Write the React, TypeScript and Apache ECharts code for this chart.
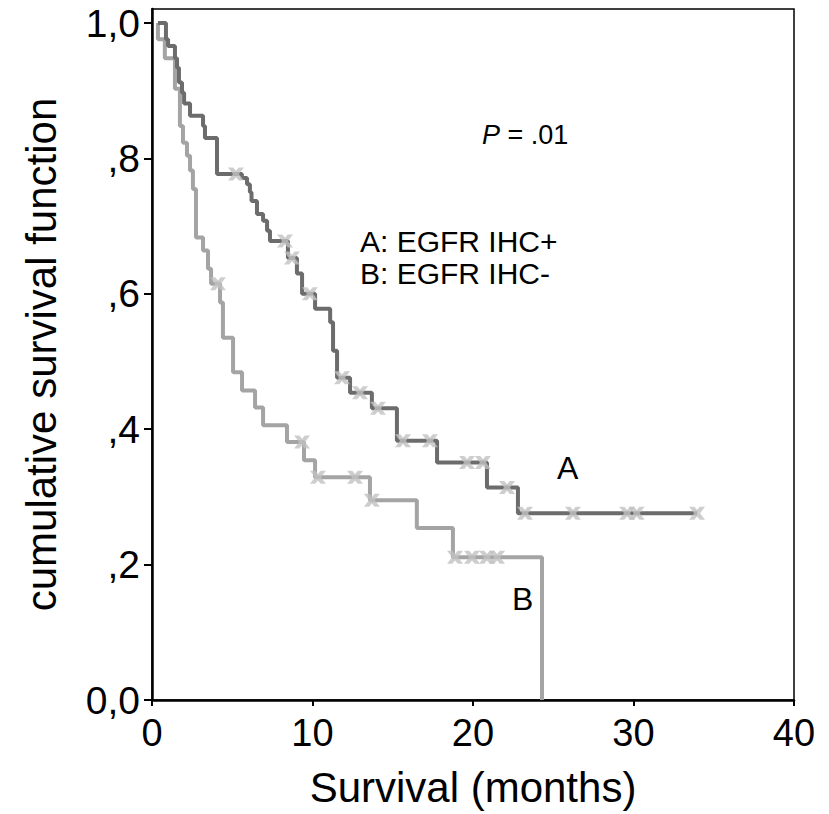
import React, { useEffect, useRef } from "react";
import * as echarts from "echarts";

// Curve A: EGFR IHC+ (drop times in months, survival after drop)
const aStart = 0.37;
const aEnd = 33.96;
const aDropT = [0.87, 1.0, 1.43, 1.56, 1.68, 1.87, 2.0, 2.37, 3.18, 3.3, 4.05, 5.6, 5.92, 6.1, 6.2, 6.54, 6.92, 7.17, 7.35, 8.47, 9.03, 9.35, 10.16, 11.1, 11.28, 11.53, 12.34, 13.7, 15.26, 17.76, 20.87, 22.8];
const aDropS = [0.976, 0.966, 0.948, 0.934, 0.912, 0.897, 0.881, 0.863, 0.848, 0.83, 0.777, 0.771, 0.762, 0.75, 0.737, 0.718, 0.708, 0.693, 0.678, 0.653, 0.63, 0.6, 0.578, 0.558, 0.516, 0.476, 0.454, 0.431, 0.383, 0.351, 0.314, 0.276];
const aCensorT = [5.23, 8.29, 8.72, 9.84, 11.84, 12.96, 14.08, 15.64, 17.32, 19.63, 20.62, 22.12, 23.24, 26.23, 29.6, 30.2, 33.96];

// Curve B: EGFR IHC-
const bStart = 0.37;
const bDropT = [0.37, 0.8, 1.43, 1.74, 1.93, 2.18, 2.37, 2.55, 2.74, 3.18, 3.49, 3.68, 4.24, 4.42, 5.05, 5.61, 6.42, 6.92, 8.41, 9.47, 10.16, 13.58, 16.5, 18.75, 24.3];
const bDropS = [0.976, 0.948, 0.903, 0.848, 0.823, 0.804, 0.782, 0.755, 0.683, 0.664, 0.637, 0.615, 0.587, 0.535, 0.484, 0.457, 0.432, 0.406, 0.381, 0.354, 0.329, 0.295, 0.254, 0.211, 0];
const bCensorT = [4.11, 9.35, 10.34, 12.65, 13.7, 18.88, 19.94, 20.87, 21.5];

const xTicks = [0, 10, 20, 30, 40];
const yTicks = [0, 0.2, 0.4, 0.6, 0.8, 1.0];
const yTickLabels = ["0,0", ",2", ",4", ",6", ",8", "1,0"];

const FONT = "'Liberation Sans', Arial, sans-serif";

function stepValue(times: number[], surv: number[], t: number): number {
  let v = 1;
  for (let i = 0; i < times.length; i++) {
    if (times[i] <= t) v = surv[i];
  }
  return v;
}

function buildLine(start: number, times: number[], surv: number[], end?: number) {
  const pts: number[][] = [[start, 1]];
  times.forEach((t, i) => pts.push([t, surv[i]]));
  if (end !== undefined) pts.push([end, surv[surv.length - 1]]);
  return pts;
}

const XPATH = "path://M0,0 L4.6,0 L7,3 L9.4,0 L14,0 L9.6,6 L14,12 L9.4,12 L7,9 L4.6,12 L0,12 L4.4,6 Z";

export default function App() {
  const ref = useRef<HTMLDivElement>(null);
  useEffect(() => {
    if (!ref.current) return;
    const chart = echarts.init(ref.current, undefined, { renderer: "svg" });
    const lineA = buildLine(aStart, aDropT, aDropS, aEnd);
    const lineB = buildLine(bStart, bDropT, bDropS);
    const censA = aCensorT.map((t) => [t, stepValue(aDropT, aDropS, t)]);
    const censB = bCensorT.map((t) => [t, stepValue(bDropT, bDropS, t)]);
    chart.setOption({
      animation: false,
      backgroundColor: "#ffffff",
      grid: {
        left: 152,
        right: 35,
        top: 9,
        bottom: 114,
        show: true,
        borderColor: "#000",
        borderWidth: 1.5,
        containLabel: false,
      },
      xAxis: {
        type: "value",
        min: 0,
        max: 40,
        interval: 10,
        name: "Survival (months)",
        nameLocation: "middle",
        nameGap: 66,
        nameTextStyle: { fontFamily: FONT, fontSize: 42, color: "#000" },
        axisLine: { show: true, onZero: false, lineStyle: { color: "#000", width: 2.5 } },
        axisTick: { show: true, inside: false, length: 6, lineStyle: { color: "#000", width: 2 } },
        axisLabel: { fontFamily: FONT, fontSize: 38, color: "#000", margin: 14 },
        splitLine: { show: false },
      },
      yAxis: {
        type: "value",
        min: 0,
        max: 1.0207,
        name: "cumulative survival function",
        nameLocation: "middle",
        nameRotate: 90,
        nameGap: 90,
        nameTextStyle: { fontFamily: FONT, fontSize: 42, color: "#000" },
        axisLine: { show: true, onZero: false, lineStyle: { color: "#000", width: 2.5 } },
        axisTick: {
          show: true,
          inside: false,
          length: 8,
          customValues: yTicks,
          lineStyle: { color: "#000", width: 2 },
        },
        axisLabel: {
          customValues: yTicks,
          fontFamily: FONT,
          fontSize: 39,
          color: "#000",
          margin: 12,
          formatter: (v: number) => {
            const i = yTicks.findIndex((t) => Math.abs(t - v) < 1e-6);
            return i >= 0 ? yTickLabels[i] : "";
          },
        },
        splitLine: { show: false },
      },
      series: [
        {
          name: "B",
          type: "line",
          step: "end",
          data: lineB,
          showSymbol: false,
          symbol: "none",
          lineStyle: { color: "#a4a4a4", width: 4 },
          z: 2,
        },
        {
          name: "A",
          type: "line",
          step: "end",
          data: lineA,
          showSymbol: false,
          symbol: "none",
          lineStyle: { color: "#6c6c6c", width: 4 },
          z: 3,
        },
        {
          name: "B censored",
          type: "scatter",
          data: censB,
          symbol: XPATH,
          symbolSize: [16, 13],
          itemStyle: { color: "#c2c2c2" },
          z: 4,
        },
        {
          name: "A censored",
          type: "scatter",
          data: censA,
          symbol: XPATH,
          symbolSize: [16, 13],
          itemStyle: { color: "#c2c2c2" },
          z: 4,
        },
      ],
      graphic: [
        {
          type: "text",
          left: 482,
          top: 121,
          style: {
            text: "{i|P} = .01",
            rich: { i: { fontStyle: "italic", fontFamily: FONT, fontSize: 27, fill: "#000" } },
            fontFamily: FONT,
            fontSize: 27,
            fill: "#000",
          },
        },
        {
          type: "text",
          left: 360,
          top: 226,
          style: { text: "A: EGFR IHC+", fontFamily: FONT, fontSize: 30, fill: "#000" },
        },
        {
          type: "text",
          left: 360,
          top: 258,
          style: { text: "B: EGFR IHC-", fontFamily: FONT, fontSize: 30, fill: "#000" },
        },
        {
          type: "text",
          left: 557,
          top: 452,
          style: { text: "A", fontFamily: FONT, fontSize: 32, fill: "#000" },
        },
        {
          type: "text",
          left: 512,
          top: 583,
          style: { text: "B", fontFamily: FONT, fontSize: 32, fill: "#000" },
        },
      ],
    });
    return () => chart.dispose();
  }, []);
  return (
    <div
      ref={ref}
      style={{ position: "fixed", left: 0, top: 0, width: 829, height: 814, background: "#fff" }}
    />
  );
}
